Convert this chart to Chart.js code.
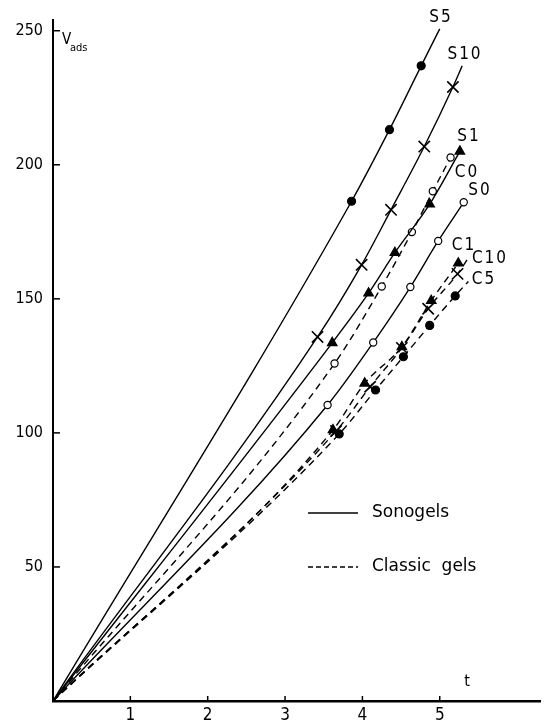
<!DOCTYPE html>
<html>
<head>
<meta charset="utf-8">
<script src="https://cdn.jsdelivr.net/npm/chart.js@4.4.1/dist/chart.umd.min.js"></script>
<style>
    html, body { margin: 0; padding: 0; background: #fff; }
    #wrap { width: 547px; height: 722px; }
</style>
</head>
<body>
<div id="wrap"><canvas id="chart" width="547" height="722"></canvas></div>
<script>
// V_ads against t, sonogels (solid) and classic gels (dashed)
const seriesNames = ['S5', 'S10', 'S1', 'S0', 'C0', 'C1', 'C10', 'C5'];

const s5T = [3.86, 4.35, 4.76];
const s5V = [186.4, 213.1, 236.9];
const s10T = [3.42, 3.99, 4.37, 4.80, 5.17];
const s10V = [135.8, 162.7, 183.2, 206.8, 229.0];
const s1T = [3.61, 4.08, 4.42, 4.87, 5.26];
const s1V = [133.6, 152.1, 167.2, 185.3, 205.0];
const s0T = [3.55, 4.14, 4.62, 4.98, 5.31];
const s0V = [110.4, 133.7, 154.4, 171.6, 186.0];
const c0T = [3.64, 4.25, 4.64, 4.91, 5.14];
const c0V = [125.9, 154.6, 174.9, 190.1, 202.7];
const c1T = [3.62, 4.03, 4.51, 4.89, 5.24];
const c1V = [101.1, 118.5, 132.1, 149.3, 163.3];
const c10T = [3.66, 4.10, 4.51, 4.85, 5.23];
const c10V = [100.7, 117.2, 131.7, 146.3, 159.3];
const c5T = [3.70, 4.17, 4.53, 4.87, 5.20];
const c5V = [99.6, 116.0, 128.4, 140.1, 151.1];

// where a curve runs on past its last marker
const endT = [5.00, 5.29, null, null, null, null, 5.37, 5.37];
const endV = [250.7, 236.9, null, null, null, null, 165.3, 156.5];

const xTicks = [1, 2, 3, 4, 5];
const yTicks = [50, 100, 150, 200, 250];

const seriesT = [s5T, s10T, s1T, s0T, c0T, c1T, c10T, c5T];
const seriesV = [s5V, s10V, s1V, s0V, c0V, c1V, c10V, c5V];

const markerStyles = [
    { style: 'circle', radius: 4, fill: '#000', dash: [] },
    { style: 'crossRot', radius: 8, fill: '#000', dash: [] },
    { style: 'triangle', radius: 5.5, fill: '#000', dash: [] },
    { style: 'circle', radius: 3.6, fill: '#fff', dash: [] },
    { style: 'circle', radius: 3.6, fill: '#fff', dash: [7, 5] },
    { style: 'triangle', radius: 5.5, fill: '#000', dash: [7, 5] },
    { style: 'crossRot', radius: 8, fill: '#000', dash: [7, 5] },
    { style: 'circle', radius: 4, fill: '#000', dash: [7, 5] }
];

// curve name labels, pixel centres
const nameLabels = [
    ['S5', 441, 18], ['S10', 465, 55], ['S1', 469, 137], ['C0', 467, 173],
    ['S0', 480, 191], ['C1', 464, 246], ['C10', 490, 259], ['C5', 484, 280]
];

const FONT = '"DejaVu Sans Condensed", "DejaVu Sans", sans-serif';
const LEGEND_FONT = '"DejaVu Sans", sans-serif';

const datasets = seriesNames.map((name, i) => {
    const pts = [{ x: 0, y: 0 }];
    seriesT[i].forEach((t, k) => pts.push({ x: t, y: seriesV[i][k] }));
    const hasEnd = endT[i] !== null;
    if (hasEnd) pts.push({ x: endT[i], y: endV[i] });
    const last = pts.length - 1;
    const st = markerStyles[i];
    return {
        label: name,
        data: pts,
        borderColor: '#000',
        borderWidth: 1.4,
        borderDash: st.dash,
        cubicInterpolationMode: 'monotone',
        fill: false,
        pointStyle: st.style,
        pointRadius: ctx => (ctx.dataIndex === 0 || (hasEnd && ctx.dataIndex === last)) ? 0 : st.radius,
        pointBackgroundColor: st.fill,
        pointBorderColor: '#000',
        pointBorderWidth: st.style === 'crossRot' ? 1.6 : 1.2
    };
});

const decorations = {
    id: 'decorations',
    afterDraw(chart) {
        const ctx = chart.ctx;
        const xs = chart.scales.x;
        const ys = chart.scales.y;
        const area = chart.chartArea;
        ctx.save();
        ctx.strokeStyle = '#000';
        ctx.fillStyle = '#000';
        ctx.lineWidth = 1.5;

        // inward tick marks
        xTicks.forEach(v => {
            const px = xs.getPixelForValue(v);
            ctx.beginPath();
            ctx.moveTo(px, area.bottom);
            ctx.lineTo(px, area.bottom - 5);
            ctx.stroke();
        });
        yTicks.forEach(v => {
            const py = ys.getPixelForValue(v);
            ctx.beginPath();
            ctx.moveTo(area.left, py);
            ctx.lineTo(area.left + 7, py);
            ctx.stroke();
        });

        // axis titles
        ctx.textAlign = 'left';
        ctx.textBaseline = 'alphabetic';
        ctx.font = '15px ' + FONT;
        ctx.fillText('V', 62, 44);
        ctx.font = '11px ' + FONT;
        ctx.fillText('ads', 70, 51);
        ctx.font = '16px ' + FONT;
        ctx.textAlign = 'center';
        ctx.textBaseline = 'middle';
        ctx.fillText('t', 467, 682);

        // curve names
        ctx.font = '17px ' + FONT;
        ctx.letterSpacing = '2px';
        nameLabels.forEach(([txt, px, py]) => ctx.fillText(txt, px, py));
        ctx.letterSpacing = '0px';

        // legend
        ctx.lineWidth = 1.4;
        ctx.beginPath();
        ctx.moveTo(308, 513);
        ctx.lineTo(358, 513);
        ctx.stroke();
        ctx.setLineDash([5, 3]);
        ctx.beginPath();
        ctx.moveTo(308, 567);
        ctx.lineTo(358, 567);
        ctx.stroke();
        ctx.setLineDash([]);
        ctx.textAlign = 'left';
        ctx.font = '17px ' + LEGEND_FONT;
        ctx.fillText('Sonogels', 372, 513);
        ctx.fillText('Classic  gels', 372, 567);
        ctx.restore();
    }
};

new Chart(document.getElementById('chart'), {
    type: 'line',
    data: { datasets: datasets },
    options: {
        responsive: false,
        animation: false,
        layout: { padding: { top: 20, right: 4, left: 0, bottom: 0 } },
        plugins: {
            legend: { display: false },
            tooltip: { enabled: false }
        },
        scales: {
            x: {
                type: 'linear',
                min: 0,
                max: 6.3,
                afterFit: scale => { scale.height = 21; },
                grid: { display: false },
                border: { display: true, color: '#000', width: 2.5 },
                ticks: {
                    stepSize: 1,
                    autoSkip: false,
                    includeBounds: false,
                    maxRotation: 0,
                    padding: -4,
                    color: '#000',
                    font: { family: FONT, size: 17 },
                    callback: v => xTicks.includes(v) ? String(v) : ''
                }
            },
            y: {
                type: 'linear',
                min: 0,
                max: 254,
                afterFit: scale => { scale.width = 53; },
                grid: { display: false },
                border: { display: true, color: '#000', width: 2 },
                ticks: {
                    stepSize: 50,
                    autoSkip: false,
                    includeBounds: false,
                    padding: 2,
                    color: '#000',
                    font: { family: FONT, size: 16 },
                    callback: v => yTicks.includes(v) ? String(v) : ''
                }
            }
        }
    },
    plugins: [decorations]
});
</script>
</body>
</html>
